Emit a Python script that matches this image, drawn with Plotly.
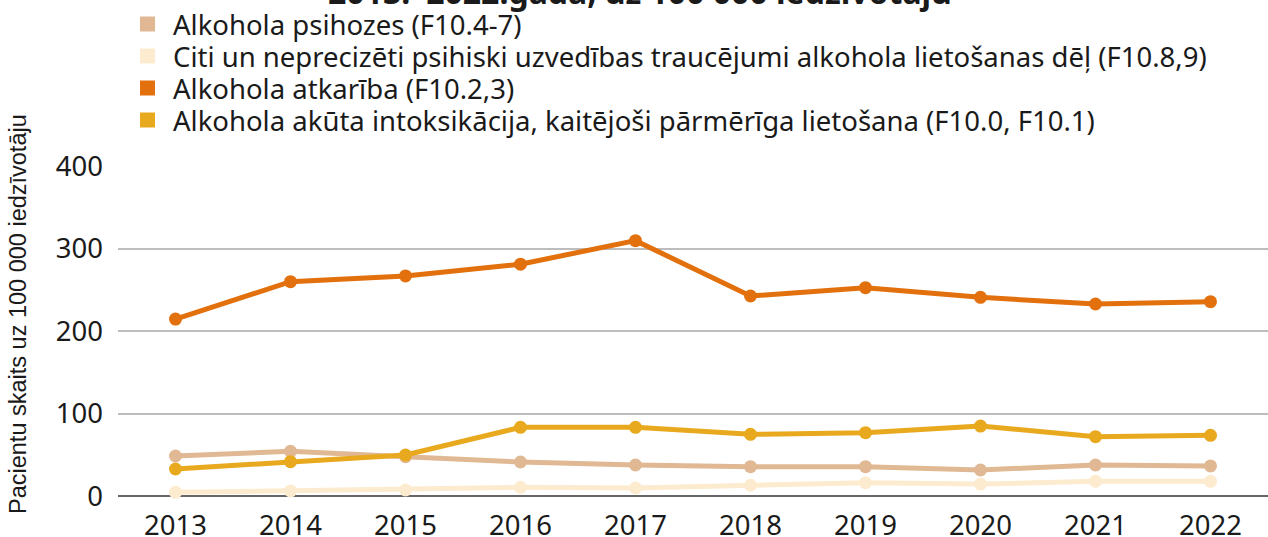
import plotly.graph_objects as go

years = ["2013", "2014", "2015", "2016", "2017", "2018", "2019", "2020", "2021", "2022"]

psihozes = [48.5, 54.1, 47.7, 41.2, 37.6, 35.6, 35.6, 31.5, 37.6, 36.4]
citi = [4.4, 6.1, 7.3, 10.5, 9.7, 13.0, 16.2, 14.5, 17.8, 17.8]
atkariba = [214.5, 259.8, 266.7, 281.0, 309.5, 242.4, 252.5, 240.8, 232.7, 235.5]
akuta = [32.7, 41.6, 49.7, 83.2, 83.2, 74.7, 76.8, 84.8, 71.9, 73.5]

names = [
    "Alkohola psihozes (F10.4-7)",
    "Citi un neprecizēti psihiski uzvedības traucējumi alkohola lietošanas dēļ (F10.8,9)",
    "Alkohola atkarība (F10.2,3)",
    "Alkohola akūta intoksikācija, kaitējoši pārmērīga lietošana (F10.0, F10.1)",
]
colors = ["#E0B894", "#FDEBCF", "#E2700C", "#E8A91F"]
series = [psihozes, citi, atkariba, akuta]

title_text = "2013.–2022.gadā, uz 100 000 iedzīvotāju"
y_title = "Pacientu skaits uz 100 000 iedzīvotāju"

# plot area in pixels: x 118..1268, y 166..496
PL, PW, PT, PH = 118, 1150, 166, 330


def px_x(x):
    return (x - PL) / PW


def px_y(y):
    return (PT + PH - y) / PH


fig = go.Figure()
for name, col, vals in zip(names, colors, series):
    fig.add_trace(go.Scatter(
        x=years, y=vals, mode="lines+markers", name=name,
        line=dict(color=col, width=5), marker=dict(color=col, size=13),
        showlegend=False, cliponaxis=False,
    ))

legend_keys = ["legend", "legend2", "legend3", "legend4"]
row_y = [24, 56, 88, 120]
for name, col, lk in zip(names, colors, legend_keys):
    fig.add_trace(go.Scatter(
        x=[None], y=[None], mode="markers", name=name,
        marker=dict(color=col, size=15, symbol="square"),
        showlegend=True, legend=lk,
    ))

legend_common = dict(
    xanchor="left", yanchor="middle",
    font=dict(family="Noto Sans", size=27.5, color="#1a1a1a"),
    itemwidth=41, bgcolor="rgba(0,0,0,0)", borderwidth=0,
)

layout_legends = {}
for lk, ry in zip(legend_keys, row_y):
    layout_legends[lk] = dict(x=px_x(122), y=px_y(ry), **legend_common)

fig.update_layout(
    width=1268, height=537,
    margin=dict(l=PL, r=0, t=PT, b=537 - PT - PH, autoexpand=False),
    paper_bgcolor="white", plot_bgcolor="white",
    font=dict(family="Noto Sans", color="#1a1a1a"),
    showlegend=True,
    xaxis=dict(
        type="category", range=[-0.5, 9.5],
        showgrid=False, showline=False, ticks="", tickangle=0,
        ticklabelstandoff=10,
        tickfont=dict(family="Noto Sans", size=27.5, color="#1a1a1a"),
    ),
    yaxis=dict(
        range=[0, 400], tickvals=[0, 100, 200, 300, 400],
        showgrid=True, gridcolor="#BDBDBD", gridwidth=1.5,
        zeroline=True, zerolinecolor="#666666", zerolinewidth=2,
        showline=False, ticks="", ticklabelstandoff=14,
        tickfont=dict(family="Noto Sans", size=27.5, color="#1a1a1a"),
    ),
    annotations=[
        dict(text="<b>" + title_text + "</b>", xref="paper", yref="paper",
             x=px_x(640), y=px_y(15),
             xanchor="center", yanchor="bottom", showarrow=False,
             font=dict(family="Noto Sans", size=32, color="#1a1a1a")),
        dict(text=y_title, xref="paper", yref="paper",
             x=px_x(18), y=px_y(314),
             xanchor="center", yanchor="middle", textangle=-90, showarrow=False,
             font=dict(family="Liberation Sans", size=23.5, color="#1a1a1a")),
    ],
    **layout_legends,
)

fig.write_html("out.html", config={"displayModeBar": False},
               post_script="document.body.style.margin='0';")
